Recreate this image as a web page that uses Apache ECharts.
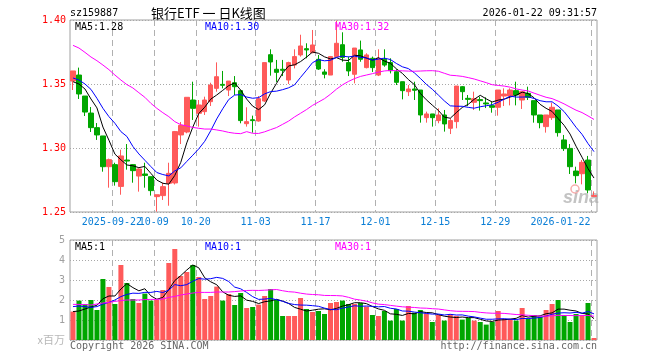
<!DOCTYPE html>
<html><head><meta charset="utf-8">
<script src="https://cdn.jsdelivr.net/npm/echarts@6/dist/echarts.min.js"></script>
<style>html,body{margin:0;padding:0;background:#fff}#c{width:660px;height:360px}</style>
</head><body><div id="c"></div>
<script>
const dates = ['2025-09-11','2025-09-12','2025-09-15','2025-09-16','2025-09-17','2025-09-18','2025-09-19','2025-09-22','2025-09-23','2025-09-24','2025-09-25','2025-09-26','2025-09-29','2025-09-30',
'2025-10-09','2025-10-10','2025-10-13','2025-10-14','2025-10-15','2025-10-16','2025-10-17','2025-10-20','2025-10-21','2025-10-22','2025-10-23','2025-10-24','2025-10-27','2025-10-28','2025-10-29','2025-10-30','2025-10-31',
'2025-11-03','2025-11-04','2025-11-05','2025-11-06','2025-11-07','2025-11-10','2025-11-11','2025-11-12','2025-11-13','2025-11-14','2025-11-17','2025-11-18','2025-11-19','2025-11-20','2025-11-21','2025-11-24','2025-11-25','2025-11-26','2025-11-27','2025-11-28',
'2025-12-01','2025-12-02','2025-12-03','2025-12-04','2025-12-05','2025-12-08','2025-12-09','2025-12-10','2025-12-11','2025-12-12','2025-12-15','2025-12-16','2025-12-17','2025-12-18','2025-12-19','2025-12-22','2025-12-23','2025-12-24','2025-12-25','2025-12-26','2025-12-29','2025-12-30','2025-12-31',
'2026-01-05','2026-01-06','2026-01-07','2026-01-08','2026-01-09','2026-01-12','2026-01-13','2026-01-14','2026-01-15','2026-01-16','2026-01-19','2026-01-20','2026-01-21','2026-01-22'];

const openP = [1.3523,1.3570,1.3406,1.3273,1.3159,1.3094,1.2854,1.2870,1.2700,1.2906,
1.2870,1.2781,1.2797,1.2776,1.2620,1.2628,1.2724,1.2727,1.3102,1.3125,
1.3375,1.3271,1.3284,1.3362,1.3466,1.3497,1.3453,1.3510,1.3448,1.3190,
1.3221,1.3211,1.3367,1.3729,1.3615,1.3615,1.3531,1.3648,1.3727,1.3776,
1.3745,1.3693,1.3594,1.3570,1.3714,1.3807,1.3667,1.3576,1.3766,1.3628,
1.3701,1.3570,1.3693,1.3667,1.3596,1.3518,1.3440,1.3461,1.3453,1.3237,
1.3266,1.3214,1.3258,1.3154,1.3206,1.3479,1.3388,1.3357,1.3378,1.3352,
1.3331,1.3318,1.3406,1.3406,1.3448,1.3375,1.3427,1.3370,1.3258,1.3167,
1.3237,1.3297,1.3063,1.2997,1.2820,1.2799,1.2906,1.2622];
const closeP = [1.3602,1.3422,1.3281,1.3159,1.3102,1.2854,1.2909,1.2737,1.2938,1.2898,
1.2823,1.2836,1.2786,1.2667,1.2635,1.2698,1.2802,1.3128,1.3177,1.3396,
1.3310,1.3336,1.3375,1.3492,1.3557,1.3490,1.3523,1.3479,1.3214,1.3206,
1.3214,1.3385,1.3667,1.3672,1.3591,1.3607,1.3667,1.3714,1.3797,1.3766,
1.3805,1.3617,1.3576,1.3714,1.3818,1.3708,1.3602,1.3781,1.3693,1.3727,
1.3628,1.3701,1.3648,1.3604,1.3513,1.3448,1.3461,1.3451,1.3258,1.3266,
1.3237,1.3258,1.3188,1.3214,1.3484,1.3440,1.3380,1.3385,1.3370,1.3344,
1.3318,1.3453,1.3422,1.3453,1.3414,1.3440,1.3396,1.3258,1.3198,1.3258,
1.3318,1.3120,1.2995,1.2854,1.2784,1.2888,1.2672,1.2628];
const lowP = [1.3453,1.3383,1.3250,1.3125,1.3063,1.2815,1.2690,1.2706,1.2635,1.2831,
1.2729,1.2659,1.2690,1.2628,1.2503,1.2594,1.2549,1.2715,1.3031,1.3115,
1.3219,1.3167,1.3258,1.3328,1.3440,1.3466,1.3406,1.3414,1.3193,1.3167,
1.3120,1.3206,1.3360,1.3565,1.3516,1.3562,1.3500,1.3622,1.3714,1.3701,
1.3740,1.3610,1.3544,1.3570,1.3714,1.3674,1.3562,1.3505,1.3674,1.3622,
1.3594,1.3562,1.3635,1.3583,1.3492,1.3380,1.3406,1.3375,1.3198,1.3198,
1.3167,1.3193,1.3128,1.3109,1.3154,1.3375,1.3328,1.3297,1.3292,1.3312,
1.3276,1.3253,1.3328,1.3333,1.3333,1.3305,1.3375,1.3198,1.3154,1.3120,
1.3219,1.3089,1.2977,1.2797,1.2724,1.2716,1.2646,1.2620];
const highP = [1.3602,1.3628,1.3406,1.3320,1.3195,1.3094,1.2917,1.2885,1.2987,1.3031,
1.2875,1.2841,1.2885,1.2776,1.2635,1.2729,1.2885,1.3133,1.3203,1.3396,
1.3518,1.3375,1.3401,1.3510,1.3669,1.3602,1.3523,1.3562,1.3448,1.3318,
1.3253,1.3406,1.3667,1.3771,1.3688,1.3688,1.3674,1.3771,1.3885,1.3818,
1.3922,1.3727,1.3615,1.3719,1.3995,1.3904,1.3714,1.3781,1.3839,1.3740,
1.3714,1.3771,1.3771,1.3701,1.3615,1.3518,1.3492,1.3518,1.3453,1.3284,
1.3266,1.3310,1.3297,1.3232,1.3484,1.3484,1.3414,1.3440,1.3401,1.3396,
1.3359,1.3453,1.3466,1.3466,1.3518,1.3445,1.3479,1.3370,1.3258,1.3258,
1.3354,1.3297,1.3102,1.3031,1.2854,1.2906,1.2938,1.2661];

// volume, millions
const volume = [1.42,1.97,1.80,2.00,1.50,3.05,2.65,1.80,3.75,2.85,
2.05,1.85,2.32,1.97,2.00,2.50,3.85,4.55,3.20,3.40,
3.75,3.15,2.05,2.20,2.67,1.97,2.30,1.75,2.35,1.60,
1.65,1.77,2.20,2.55,2.00,1.20,1.20,1.20,2.10,1.55,
1.40,1.45,1.30,1.85,1.90,1.97,1.80,1.80,1.85,1.67,
1.25,1.20,1.45,0.97,1.55,0.97,1.70,1.37,1.50,1.33,
0.90,1.25,0.97,1.30,1.20,1.02,1.10,0.97,0.90,0.77,
0.90,1.45,1.05,1.05,0.97,1.60,1.05,1.25,1.17,1.50,
1.80,2.00,1.25,0.90,1.30,1.20,1.85,0.10];

// moving-average values before enough bars exist in the window
const ma5Head = [1.3518,1.3500,1.3461,1.3383];
const ma10Head = [1.3547,1.3531,1.3500,1.3458,1.3388,1.3310,1.3245,1.3193,1.3128];
const ma30Head = [1.3802,1.3781,1.3747,1.3711,1.3682,1.3648,1.3612,1.3570,1.3531,1.3495,1.3469,1.3432,1.3396,1.3349,1.3310,1.3276,1.3245,1.3206,1.3182,1.3172,1.3161,1.3154,1.3148,1.3148,1.3141,1.3133,1.3122,1.3115,1.3112];
const vma5Head = [1.42,1.45,1.55,1.65];
const vma10Head = [1.67,1.70,1.67,1.63,1.67,1.80,1.88,2.00,2.17];
const vma30Head = [1.78,1.78,1.77,1.75,1.80,1.85,1.88,1.93,1.97,2.00,2.00,2.00,2.02,2.03,2.03,2.05,2.13,2.18,2.25,2.30,2.35,2.38,2.38,2.38,2.40,2.40,2.40,2.42,2.45];

const tickIdx = [7,14,21,31,41,51,61,71,87];
const tickLabels = ['2025-09-22','10-09','10-20','11-03','11-17','12-01','12-15','12-29','2026-01-22'];

const RED = '#ff5a5a', GREEN = '#00a600';
const MONO = "'DejaVu Sans Mono', monospace";

function movingAvg(src, n, head) {
  return src.map((v, i) => {
    if (i < n - 1) return head[i];
    let s = 0; for (let k = i - n + 1; k <= i; k++) s += src[k];
    return +(s / n).toFixed(5);
  });
}
const ma5 = movingAvg(closeP, 5, ma5Head), ma10 = movingAvg(closeP, 10, ma10Head), ma30 = movingAvg(closeP, 30, ma30Head);
const vma5 = movingAvg(volume, 5, vma5Head), vma10 = movingAvg(volume, 10, vma10Head), vma30 = movingAvg(volume, 30, vma30Head);
const kData = dates.map((d, i) => [openP[i], closeP[i], lowP[i], highP[i]]);
const last = a => a[a.length - 1];
// boundary axis: one category per bar edge (left edge of each bar, plus the final right edge)
const edges = dates.concat(['']);

const isTick = (idx) => tickIdx.indexOf(idx) >= 0;
const vSplit = { show: true, interval: isTick, lineStyle: { color: '#b0b0b0', type: [6, 4], width: 1 } };
const hSplit = { show: true, lineStyle: { color: '#a8a8a8', type: [1, 2], width: 1 } };

const chart = echarts.init(document.getElementById('c'), null, { renderer: 'canvas' });
const lineS = (name, data, color, xi) => ({ name, type: 'line', data, xAxisIndex: xi, yAxisIndex: xi, showSymbol: false, symbol: 'none', silent: true, z: 4,
  lineStyle: { color, width: 1 }, animation: false });
const hiddenCat = (gi) => ({ type: 'category', data: dates, gridIndex: gi, boundaryGap: true, position: 'top',
  axisLine: { show: false }, axisTick: { show: false }, splitLine: { show: false }, axisLabel: { show: false } });

chart.setOption({
  animation: false,
  backgroundColor: '#ffffff',
  grid: [
    { left: 70, top: 20, width: 527, height: 192, show: true, borderColor: '#a0a0a0', borderWidth: 1, backgroundColor: 'transparent' },
    { left: 70, top: 240, width: 527, height: 100, show: true, borderColor: '#a0a0a0', borderWidth: 1, backgroundColor: 'transparent' }
  ],
  xAxis: [
    hiddenCat(0),
    hiddenCat(1),
    { type: 'category', data: edges, gridIndex: 0, boundaryGap: false, position: 'bottom',
      axisLine: { show: false }, axisTick: { show: false }, splitLine: vSplit,
      axisLabel: { show: true, interval: (idx) => idx === 0 || isTick(idx), hideOverlap: false,
        color: '#0a7ed6', fontFamily: MONO, fontSize: 10, margin: 5,
        formatter: (v, idx) => { const k = tickIdx.indexOf(idx); if (k < 0) return ''; return k === tickIdx.length - 1 ? '{r|' + tickLabels[k] + '}' : tickLabels[k]; },
        rich: { r: { color: '#0a7ed6', fontFamily: MONO, fontSize: 10, padding: [0, 61, 0, 0] } } } },
    { type: 'category', data: edges, gridIndex: 1, boundaryGap: false, position: 'bottom',
      axisLine: { show: false }, axisTick: { show: false }, splitLine: vSplit, axisLabel: { show: false } }
  ],
  yAxis: [
    { type: 'value', gridIndex: 0, min: 1.25, max: 1.40, interval: 0.05, scale: true,
      axisLine: { show: false }, axisTick: { show: false }, splitLine: hSplit,
      axisLabel: { color: '#ff0000', fontFamily: MONO, fontSize: 10, margin: 4, formatter: v => v.toFixed(2) } },
    { type: 'value', gridIndex: 1, min: 0, max: 5, interval: 1,
      axisLine: { show: false }, axisTick: { show: false }, splitLine: hSplit,
      axisLabel: { color: '#a0a0a0', fontFamily: MONO, fontSize: 10, margin: 5,
        formatter: v => v === 0 ? '{u|x百万}' : String(v),
        rich: { u: { color: '#b8b8b8', fontFamily: "'Noto Sans CJK SC', sans-serif", fontSize: 11 } } } }
  ],
  series: [
    { type: 'candlestick', data: kData, xAxisIndex: 0, yAxisIndex: 0, barWidth: 5, z: 3, silent: true,
      itemStyle: { color: RED, color0: GREEN, borderColor: RED, borderColor0: GREEN, borderWidth: 1 } },
    lineS('MA5', ma5, '#000000', 0),
    lineS('MA10', ma10, '#0000ff', 0),
    lineS('MA30', ma30, '#ff00ff', 0),
    { type: 'bar', data: volume, xAxisIndex: 1, yAxisIndex: 1, barWidth: 5, z: 3, silent: true,
      itemStyle: { color: p => (closeP[p.dataIndex] >= openP[p.dataIndex] ? RED : GREEN) } },
    { type: 'line', data: [], xAxisIndex: 2, yAxisIndex: 0, silent: true },
    { type: 'line', data: [], xAxisIndex: 3, yAxisIndex: 1, silent: true },
    lineS('VMA5', vma5, '#000000', 1),
    lineS('VMA10', vma10, '#0000ff', 1),
    lineS('VMA30', vma30, '#ff00ff', 1)
  ],
  graphic: [
    { type: 'text', x: 70, y: 13, style: { text: 'sz159887', fill: '#000', font: "10px 'DejaVu Sans Mono', monospace", textVerticalAlign: 'middle', verticalAlign: 'middle' } },
    { type: 'text', x: 151, y: 13, style: { text: '银行ETF 一 日K线图', fill: '#000', font: "13px 'Noto Sans CJK SC', sans-serif", textVerticalAlign: 'middle', verticalAlign: 'middle' } },
    { type: 'text', x: 597, y: 13, style: { text: '2026-01-22 09:31:57', fill: '#000', font: "10px 'DejaVu Sans Mono', monospace", textAlign: 'right', align: 'right', textVerticalAlign: 'middle', verticalAlign: 'middle' } },
    { type: 'text', x: 75, y: 27, z: 10, style: { text: 'MA5:' + last(ma5).toFixed(2), fill: '#000', font: "10px 'DejaVu Sans Mono', monospace", textVerticalAlign: 'middle', verticalAlign: 'middle' } },
    { type: 'text', x: 205, y: 27, z: 10, style: { text: 'MA10:' + last(ma10).toFixed(2), fill: '#0000ff', font: "10px 'DejaVu Sans Mono', monospace", textVerticalAlign: 'middle', verticalAlign: 'middle' } },
    { type: 'text', x: 335, y: 27, z: 10, style: { text: 'MA30:' + last(ma30).toFixed(2), fill: '#ff00ff', font: "10px 'DejaVu Sans Mono', monospace", textVerticalAlign: 'middle', verticalAlign: 'middle' } },
    { type: 'text', x: 75, y: 247, z: 10, style: { text: 'MA5:' + last(vma5).toFixed(0), fill: '#000', font: "10px 'DejaVu Sans Mono', monospace", textVerticalAlign: 'middle', verticalAlign: 'middle' } },
    { type: 'text', x: 205, y: 247, z: 10, style: { text: 'MA10:' + last(vma10).toFixed(0), fill: '#0000ff', font: "10px 'DejaVu Sans Mono', monospace", textVerticalAlign: 'middle', verticalAlign: 'middle' } },
    { type: 'text', x: 335, y: 247, z: 10, style: { text: 'MA30:' + last(vma30).toFixed(0), fill: '#ff00ff', font: "10px 'DejaVu Sans Mono', monospace", textVerticalAlign: 'middle', verticalAlign: 'middle' } },
    { type: 'text', x: 70, y: 346, style: { text: 'Copyright 2026 SINA.COM', fill: '#666', font: "10px 'DejaVu Sans Mono', monospace", textVerticalAlign: 'middle', verticalAlign: 'middle' } },
    { type: 'text', x: 597, y: 346, style: { text: 'http://finance.sina.com.cn', fill: '#666', font: "10px 'DejaVu Sans Mono', monospace", textAlign: 'right', align: 'right', textVerticalAlign: 'middle', verticalAlign: 'middle' } },
    { type: 'text', x: 563, y: 198, z: 1, style: { text: 'sina', fill: 'rgba(175,175,175,0.75)', font: "italic bold 18px 'Liberation Sans', sans-serif", textVerticalAlign: 'middle', verticalAlign: 'middle' } },
    { type: 'circle', z: 1, shape: { cx: 575, cy: 189, r: 4 }, style: { fill: 'none', stroke: 'rgba(240,120,120,0.6)', lineWidth: 1.5 } }
  ]
});
</script></body></html>
